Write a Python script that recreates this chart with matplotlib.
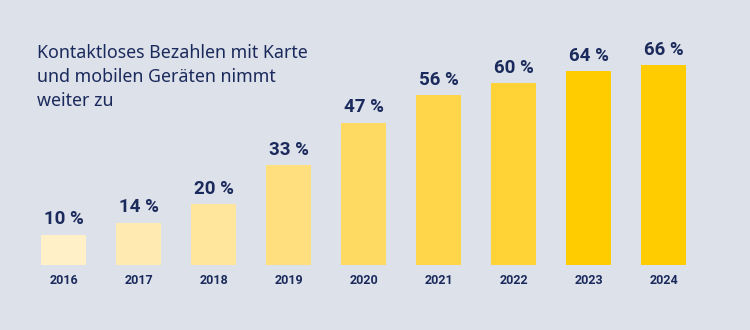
import matplotlib.pyplot as plt

# Data
years = ["2016", "2017", "2018", "2019", "2020", "2021", "2022", "2023", "2024"]
shares = [10, 14, 20, 33, 47, 56, 60, 64, 66]
bar_colors = ["#fff0c8", "#ffebb2", "#ffe69c", "#ffdf7e", "#ffda62",
              "#ffd54a", "#ffd236", "#ffcc00", "#ffcc00"]

bg = "#dde1e9"
navy = "#1b2a5c"

fig = plt.figure(figsize=(7.5, 3.3), dpi=100, facecolor=bg)
ax = fig.add_axes([0, 0, 1, 1], facecolor=bg)

x = range(len(years))
ax.bar(x, shares, width=0.6, color=bar_colors)

for i, v in enumerate(shares):
    ax.annotate(f"{v} %", (i, v), xytext=(0, 4.5), textcoords="offset points",
                ha="center", va="bottom", fontsize=13.5, fontweight="bold",
                color=navy, family="Roboto")
    ax.text(i, -5, years[i], ha="center", va="center", fontsize=9,
            fontweight="bold", color=navy, family="Roboto")

ax.set_xlim(-0.8467, 9.1533)
ax.set_ylim(-21.45, 87.46)
ax.axis("off")

fig.text(37 / 750, 1 - 44 / 330,
         "Kontaktloses Bezahlen mit Karte\nund mobilen Geräten nimmt\nweiter zu",
         ha="left", va="top", fontsize=12.8, color=navy, family="Noto Sans",
         linespacing=1.42)

fig.savefig("out.png", dpi=100, facecolor=bg)
